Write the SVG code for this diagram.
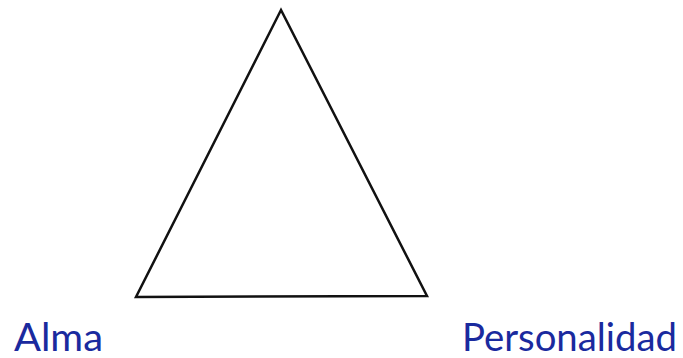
<svg xmlns="http://www.w3.org/2000/svg" width="683" height="358" viewBox="0 0 683 358">
<style>
.lbl{font-family:"Lato","Noto Sans",sans-serif;font-size:39px;font-weight:400;fill:#1a2a9e}
.edge{fill:none;stroke:#111;stroke-width:2.5;stroke-linejoin:miter}
</style>
<rect width="683" height="358" fill="#fff"/>
<g id="connectors">
<path class="edge" d="M281,10 L136,297 L427,296 Z"/>
</g>
<g id="alma"><text class="lbl" x="14" y="351" textLength="89" lengthAdjust="spacingAndGlyphs">Alma</text></g>
<g id="personalidad"><text class="lbl" x="462" y="351" textLength="215" lengthAdjust="spacingAndGlyphs">Personalidad</text></g>
</svg>
